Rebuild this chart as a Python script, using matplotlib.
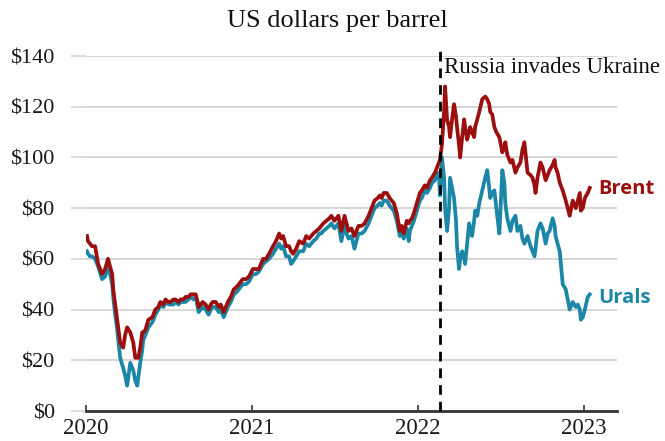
import matplotlib
matplotlib.use("Agg")
import matplotlib.pyplot as plt
import numpy as np

dates = [2020.006, 2020.012, 2020.024, 2020.036, 2020.055, 2020.073, 2020.097, 2020.115, 2020.133, 2020.145,
         2020.158, 2020.164, 2020.176, 2020.188, 2020.206, 2020.224, 2020.236, 2020.248, 2020.267, 2020.285,
         2020.297, 2020.309, 2020.315, 2020.327, 2020.339, 2020.345, 2020.358, 2020.376, 2020.400, 2020.418,
         2020.436, 2020.448, 2020.467, 2020.479, 2020.497, 2020.509, 2020.527, 2020.539, 2020.558, 2020.570,
         2020.588, 2020.600, 2020.618, 2020.630, 2020.648, 2020.661, 2020.673, 2020.679, 2020.691, 2020.703,
         2020.721, 2020.739, 2020.752, 2020.764, 2020.782, 2020.800, 2020.812, 2020.824, 2020.830, 2020.842,
         2020.855, 2020.873, 2020.891, 2020.909, 2020.921, 2020.945, 2020.964, 2020.982, 2021.006, 2021.024,
         2021.042, 2021.067, 2021.085, 2021.103, 2021.127, 2021.145, 2021.164, 2021.176, 2021.188, 2021.206,
         2021.224, 2021.236, 2021.248, 2021.267, 2021.285, 2021.309, 2021.327, 2021.345, 2021.370, 2021.388,
         2021.406, 2021.418, 2021.430, 2021.448, 2021.467, 2021.479, 2021.497, 2021.509, 2021.521, 2021.539,
         2021.558, 2021.570, 2021.582, 2021.600, 2021.618, 2021.630, 2021.642, 2021.661, 2021.679, 2021.703,
         2021.721, 2021.739, 2021.758, 2021.770, 2021.782, 2021.794, 2021.812, 2021.830, 2021.842, 2021.855,
         2021.873, 2021.891, 2021.903, 2021.915, 2021.933, 2021.945, 2021.952, 2021.964, 2021.976, 2021.994,
         2022.012, 2022.024, 2022.042, 2022.055, 2022.073, 2022.085, 2022.103, 2022.115, 2022.127, 2022.133,
         2022.145, 2022.158, 2022.164, 2022.176, 2022.188, 2022.194, 2022.206, 2022.218, 2022.230, 2022.236,
         2022.248, 2022.255, 2022.267, 2022.279, 2022.285, 2022.297, 2022.309, 2022.315, 2022.327, 2022.339,
         2022.345, 2022.358, 2022.370, 2022.388, 2022.406, 2022.418, 2022.430, 2022.436, 2022.448, 2022.461,
         2022.473, 2022.491, 2022.497, 2022.509, 2022.521, 2022.527, 2022.539, 2022.558, 2022.570, 2022.588,
         2022.600, 2022.618, 2022.630, 2022.642, 2022.661, 2022.679, 2022.691, 2022.703, 2022.709, 2022.721,
         2022.739, 2022.752, 2022.770, 2022.782, 2022.794, 2022.812, 2022.824, 2022.830, 2022.842, 2022.855,
         2022.873, 2022.891, 2022.903, 2022.915, 2022.933, 2022.952, 2022.964, 2022.976, 2022.982, 2022.994,
         2023.006, 2023.024, 2023.036]

brent = [69, 67, 66, 65, 65, 58, 54, 56, 60, 57,
         54, 48, 42, 36, 27, 25, 30, 33, 31, 27,
         21, 21, 21, 25, 31, 31, 32, 36, 37, 40,
         41, 43, 42, 44, 43, 43, 44, 44, 43, 44,
         44, 45, 45, 46, 46, 46, 43, 41, 42, 43,
         42, 40, 42, 43, 43, 41, 42, 40, 39, 41,
         43, 45, 48, 49, 50, 52, 52, 53, 56, 56,
         56, 60, 60, 62, 65, 67, 70, 68, 69, 65,
         65, 63, 62, 64, 67, 66, 69, 68, 70, 71,
         72, 73, 74, 75, 76, 77, 75, 76, 77, 71,
         77, 74, 71, 72, 69, 71, 73, 73, 74, 77,
         80, 83, 84, 85, 84, 86, 86, 84, 83, 82,
         78, 71, 73, 70, 75, 74, 75, 76, 78, 82,
         86, 87, 89, 88, 91, 92, 94, 96, 98, 99,
         105, 118, 128, 115, 112, 108, 115, 121, 116, 112,
         105, 100, 108, 115, 112, 107, 110, 112, 110, 108,
         112, 115, 118, 123, 124, 123, 121, 118, 117, 112,
         110, 108, 106, 102, 104, 106, 101, 98, 99, 94,
         96, 98, 103, 106, 94, 93, 92, 89, 86, 92,
         98, 96, 91, 93, 95, 97, 99, 96, 94, 90,
         87, 83, 80, 77, 83, 80, 83, 86, 79, 80,
         84, 86, 88]

urals = [63, 62, 61, 61, 60, 57, 52, 53, 57, 54,
         50, 45, 38, 32, 21, 17, 14, 10, 19, 16,
         12, 10, 13, 19, 24, 28, 30, 33, 35, 38,
         40, 42, 41, 43, 42, 42, 42, 43, 42, 43,
         43, 43, 44, 45, 44, 45, 41, 39, 40, 41,
         40, 38, 40, 41, 41, 39, 40, 38, 37, 39,
         41, 43, 46, 47, 48, 50, 50, 51, 54, 54,
         55, 58, 59, 60, 62, 64, 66, 64, 65, 61,
         61, 58, 59, 61, 63, 63, 66, 65, 67, 68,
         70, 70, 71, 72, 73, 74, 72, 73, 74, 67,
         73, 70, 68, 69, 64, 67, 70, 70, 71, 74,
         77, 80, 81, 82, 81, 83, 83, 81, 80, 79,
         75, 69, 70, 68, 72, 67, 71, 73, 75, 79,
         83, 84, 87, 86, 88, 90, 91, 93, 94, 85,
         100, 92, 80, 71, 80, 92, 88, 84, 75, 65,
         56, 60, 63, 60, 58, 66, 74, 72, 69, 75,
         79, 77, 82, 87, 92, 95, 88, 84, 86, 87,
         80, 70, 78, 95, 90, 82, 76, 71, 75, 77,
         71, 73, 68, 66, 69, 65, 63, 61, 64, 71,
         74, 72, 66, 70, 71, 76, 73, 69, 66, 63,
         50, 48, 44, 40, 43, 41, 42, 40, 36, 37,
         40, 45, 46]

yticks = [0, 20, 40, 60, 80, 100, 120, 140]
ytick_labels = ["$0", "$20", "$40", "$60", "$80", "$100", "$120", "$140"]
xticks = [2020, 2021, 2022, 2023]
xtick_labels = ["2020", "2021", "2022", "2023"]
invasion_date = 2022.135

BRENT_C = "#9c0f0f"
URALS_C = "#1c86a6"
SERIF = ["Liberation Serif", "DejaVu Serif"]

fig = plt.figure(figsize=(6.65, 4.41), dpi=100)
ax = fig.add_axes([0.1293, 0.068, 0.7985, 0.805])

ax.plot(dates, urals, color=URALS_C, lw=2.7, solid_joinstyle="round", zorder=3)
ax.plot(dates, brent, color=BRENT_C, lw=2.7, solid_joinstyle="round", zorder=4)

ax.set_xlim(2020, 2023.2)
ax.set_ylim(0, 140)
ax.set_yticks(yticks)
ax.set_yticklabels(ytick_labels, fontfamily=SERIF, fontsize=16, color="#1a1a1a")
ax.set_xticks(xticks)
ax.set_xticklabels(xtick_labels, fontfamily=SERIF, fontsize=16.5, color="#1a1a1a")

ax.grid(axis="y", color="#cfcfcf", lw=1.2, zorder=0)
ax.tick_params(axis="y", length=11, color="#d5d5d5", width=1.2, pad=11.5)
ax.tick_params(axis="x", direction="in", length=4, color="#333333", width=1.2, pad=5)
for s in ["top", "right", "left"]:
    ax.spines[s].set_visible(False)
ax.spines["bottom"].set_color("#333333")
ax.spines["bottom"].set_linewidth(2)
ax.spines["bottom"].set_zorder(5)

ax.plot([invasion_date, invasion_date], [0, 144], color="black", lw=2,
        ls=(0, (3.5, 2.5)), clip_on=False, zorder=6)
ax.text(invasion_date + 0.025, 135.5, "Russia invades Ukraine", fontfamily=SERIF,
        fontsize=16.5, color="#111111", ha="left", va="center", zorder=7)

ax.text(2023.09, brent[-1] - 0.5, "Brent", color=BRENT_C, fontfamily="Open Sans",
        fontweight="bold", fontsize=14.5, ha="left", va="center")
ax.text(2023.09, urals[-1] - 1.5, "Urals", color=URALS_C, fontfamily="Open Sans",
        fontweight="bold", fontsize=14.5, ha="left", va="center")

fig.text(0.508, 0.952, "US dollars per barrel", fontfamily=SERIF, fontsize=19,
         color="#111111", ha="center", va="center")

fig.savefig("out.png", dpi=100, facecolor="white")
